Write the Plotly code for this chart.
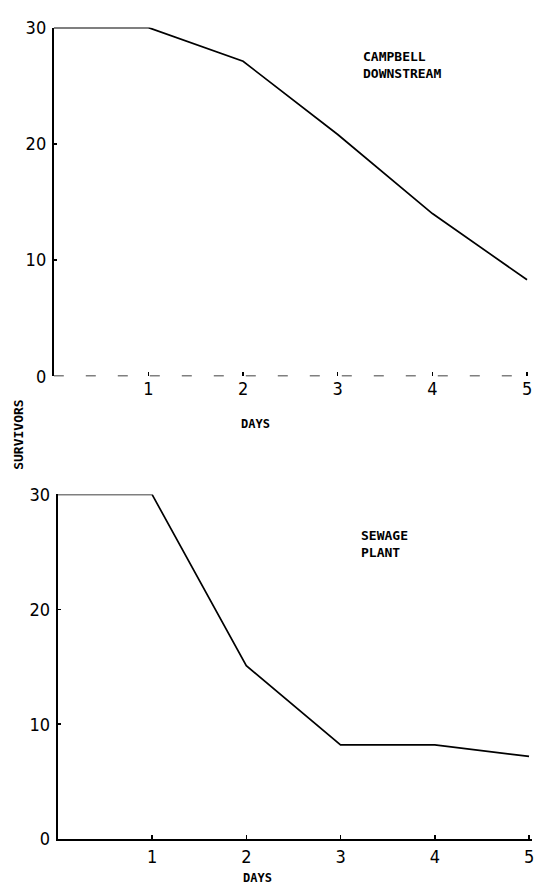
import plotly.graph_objects as go

days = [0, 1, 2, 3, 4, 5]
campbell_downstream = [30, 30, 27.1, 20.8, 14.0, 8.3]
sewage_plant = [30, 30, 15.1, 8.2, 8.2, 7.2]
x_ticks = [1, 2, 3, 4, 5]
y_ticks = [0, 10, 20, 30]

W, H = 540, 896
XMAX = 5.03
top_xd = [54 / W, (54 + 95.0 * XMAX) / W]
bot_xd = [58 / W, (58 + 94.6 * XMAX) / W]
top_dom = [1 - 374 / H, 1 - 17 / H]
bot_dom = [1 - 848 / H, 1 - 495 / H]

fig = go.Figure()
fig.add_trace(go.Scatter(x=days, y=campbell_downstream, mode="lines",
                         line=dict(color="black", width=1.7), xaxis="x", yaxis="y",
                         showlegend=False))
fig.add_trace(go.Scatter(x=days, y=sewage_plant, mode="lines",
                         line=dict(color="black", width=1.7), xaxis="x2", yaxis="y2",
                         showlegend=False))

tickfont = dict(family="Liberation Sans Narrow, DejaVu Sans Condensed, Arial Narrow, sans-serif",
                size=18, color="black")
labfont = dict(family="DejaVu Sans Mono, monospace", size=12, color="black")

common_x = dict(range=[0, XMAX], tickvals=x_ticks, ticks="inside", ticklen=4, tickcolor="black",
                tickwidth=1.5, showgrid=False, zeroline=False, tickfont=tickfont,
                ticklabeloverflow="allow", fixedrange=True)
common_y = dict(range=[0, 30], tickvals=y_ticks, ticks="inside", ticklen=3, tickcolor="black",
                tickwidth=1.5, showgrid=False, zeroline=False, showline=True, linecolor="black",
                linewidth=2, tickfont=tickfont, ticklabelstandoff=2, fixedrange=True)

fig.update_layout(
    width=W, height=H, margin=dict(l=0, r=0, t=0, b=0),
    plot_bgcolor="white", paper_bgcolor="white",
    xaxis=dict(common_x, anchor="y", domain=top_xd, showline=False),
    yaxis=dict(common_y, domain=top_dom, anchor="x"),
    xaxis2=dict(common_x, anchor="y2", domain=bot_xd, showline=True, linecolor="black",
                linewidth=2),
    yaxis2=dict(common_y, domain=bot_dom, anchor="x2"),
)

# faint, broken baseline of the upper panel
fig.add_shape(type="line", xref="x", yref="y", x0=0, x1=XMAX, y0=0, y1=0,
              line=dict(color="black", width=1.5, dash="10px,22px"))

annos = [
    dict(text="<b>CAMPBELL<br>DOWNSTREAM</b>", x=362 / W, y=1 - 37 / H, xanchor="left",
         yanchor="top", align="left", font=dict(labfont, size=13)),
    dict(text="<b>SEWAGE<br>PLANT</b>", x=360 / W, y=1 - 527 / H, xanchor="left",
         yanchor="top", align="left", font=dict(labfont, size=13)),
    dict(text="<b>DAYS</b>", x=256 / W, y=1 - 423 / H, xanchor="center", yanchor="middle",
         font=labfont),
    dict(text="<b>DAYS</b>", x=258 / W, y=1 - 888 / H, xanchor="center", yanchor="middle",
         font=labfont),
    dict(text="<b>SURVIVORS</b>", x=19 / W, y=1 - 433 / H, xanchor="center", yanchor="middle",
         textangle=-90, font=dict(labfont, size=13)),
]
for a in annos:
    fig.add_annotation(xref="paper", yref="paper", showarrow=False, **a)

fig.write_html("out.html", config={"displayModeBar": False, "staticPlot": True},
               post_script="document.body.style.margin='0';document.body.style.overflow='hidden';")
